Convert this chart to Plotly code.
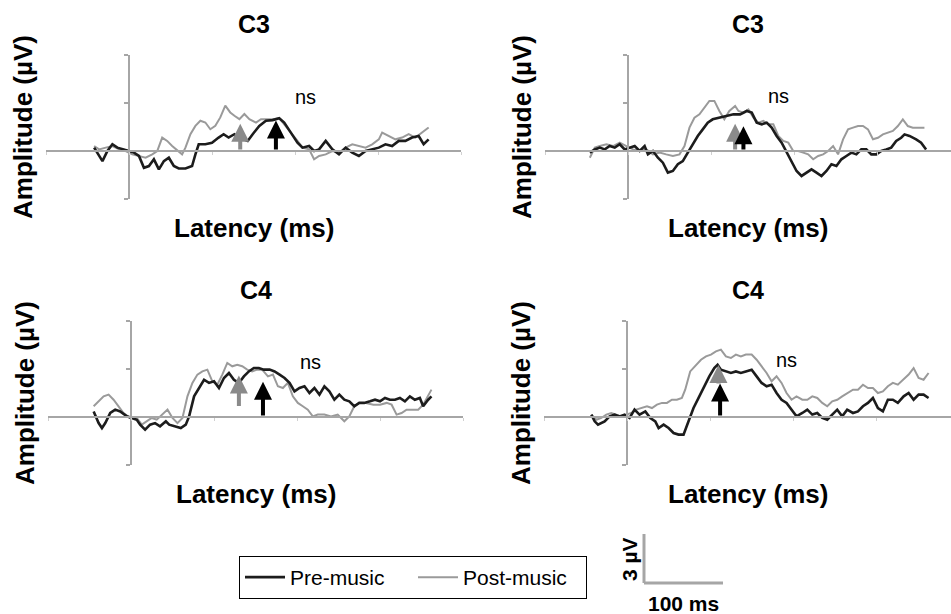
import plotly.graph_objects as go

# ---------------- data (latency in ms, amplitude in µV) ----------------
titles = ["C3", "C3", "C4", "C4"]

p1_pre_t = [-42,-36,-32,-26,-20,-14,-8,0,6,12,18,24,30,36,42,48,54,60,68,76,80,84,92,100,108,114,120,127,133,139,143,149,157,165,173,181,187,195,203,209,217,223,229,237,245,253,261,269,277,285,293,301,309,317,325,333,341,349,355,361]
p1_pre_v = [0.21,-0.31,-0.63,0,0.42,0.21,0.1,0,-0.1,-0.31,-1.05,-0.94,-0.52,-1.15,-0.63,-0.42,-0.94,-1.09,-1.09,-0.94,-0.21,0.42,0.42,0.52,0.84,1.05,0.84,1.05,0.84,0.73,0.63,1.05,1.57,1.89,1.93,2.05,1.78,1.15,0.52,0.21,0.31,0,0.1,0.63,0.1,-0.21,0.21,-0.1,-0.31,0,0.1,0.21,0.42,0.31,0.63,0.63,0.84,0.94,0.42,0.73]
p1_post_t = [-42,-36,-28,-20,-12,-4,4,12,20,28,34,40,46,52,60,64,68,74,80,86,92,98,104,110,116,122,127,133,139,145,153,159,165,173,181,187,195,203,209,217,223,229,237,245,253,261,269,277,285,293,301,305,313,321,329,337,345,353,361]
p1_post_v = [0.31,0.1,0.21,0.31,0.1,0,-0.21,-0.31,-0.42,-0.21,0,0.84,0.63,0.31,0,-0.21,0.21,1.05,1.57,1.89,1.78,1.36,1.57,2.1,2.83,2.41,2.2,1.99,2.31,1.99,1.78,1.99,1.99,1.99,2.05,1.68,1.15,0.63,0.21,0.1,-0.52,-0.31,-0.21,0,-0.1,0.21,0.42,0.31,0.21,0.42,0.73,1.15,0.94,0.73,0.84,1.05,0.84,1.15,1.47]

p2_pre_t = [-46,-40,-34,-28,-22,-16,-10,-4,2,8,14,20,24,30,36,42,48,54,60,66,72,78,84,90,96,102,110,118,127,135,143,149,155,161,167,173,179,185,191,197,203,209,215,221,227,233,239,245,251,257,263,269,275,281,287,293,299,305,311,317,323,329,333,339,347,353,359]
p2_pre_v = [-0.1,0.1,0.21,0.1,0.31,0.21,0.42,0.1,0.21,0.31,0,0.31,-0.21,0,-0.42,-0.73,-1.35,-1.25,-0.83,-0.63,-0.1,0.42,0.94,1.35,1.77,1.98,2.08,2.19,2.29,2.29,2.5,2.4,1.77,1.67,1.77,1.46,0.94,0.52,-0.1,-0.73,-1.25,-1.56,-1.35,-1.15,-1.35,-1.56,-1.25,-0.83,-0.94,-0.52,-0.31,-0.1,-0.21,0.1,0.1,-0.21,-0.21,0,0.1,0.21,0.63,0.83,1.04,0.94,0.73,0.52,0.1]
p2_post_t = [-46,-40,-34,-26,-18,-10,-2,6,14,22,30,38,46,54,62,68,74,80,86,92,98,104,110,116,122,129,133,139,145,151,157,163,169,175,181,187,193,199,205,211,217,223,229,235,241,247,253,259,265,271,277,283,289,295,301,307,313,319,325,331,337,343,351,357]
p2_post_v = [-0.42,0.21,0.31,0.42,0.31,0.52,0.31,0.1,0,0.1,-0.21,-0.1,-0.21,-0.31,-0.21,0.31,1.46,2.08,2.29,2.71,3.13,3.13,2.5,1.98,2.5,2.81,2.5,2.4,2.6,2.08,1.77,1.88,1.67,1.67,0.94,0.63,0.52,0,0,-0.1,-0.21,-0.52,-0.31,-0.21,0,0.31,-0.21,0.73,1.35,1.46,1.56,1.56,1.35,0.73,0.83,1.04,1.15,1.25,1.56,1.98,1.56,1.46,1.46,1.46]

p3_pre_t = [-45,-39,-35,-31,-25,-19,-13,-5,1,7,11,17,23,29,35,42,46,52,60,66,70,76,82,88,94,100,106,112,118,124,130,136,142,148,154,160,167,173,179,185,191,197,203,209,215,221,227,233,239,245,251,257,263,269,275,281,288,294,300,306,312,318,324,330,336,342,348,352,358,362]
p3_pre_v = [0.35,-0.38,-0.69,-0.38,0.25,0.46,0.35,0.04,-0.06,-0.17,-0.48,-0.79,-0.48,-0.38,-0.58,-0.27,-0.48,-0.58,-0.69,-0.48,0.04,1.29,1.81,2.33,2.13,2.23,1.81,2.44,2.75,2.33,2.13,2.54,2.85,3.06,3.06,2.96,2.96,2.85,2.65,2.44,2.13,1.6,1.81,1.92,1.5,1.81,1.4,1.92,1.6,1.08,1.4,1.08,0.98,0.67,0.88,0.88,0.98,1.08,0.98,1.19,1.08,1.08,1.19,0.98,1.29,1.08,1.19,0.67,1.08,1.29]
p3_post_t = [-45,-39,-33,-27,-21,-15,-9,-1,7,13,19,25,31,38,44,50,56,62,68,74,80,86,92,98,104,110,116,122,128,134,140,146,152,158,165,171,177,183,189,195,201,207,213,219,225,233,241,249,257,263,269,275,283,292,300,308,314,320,326,332,338,346,352,358,362]
p3_post_v = [0.67,0.98,1.29,1.4,1.08,0.67,0.25,-0.06,-0.06,-0.48,-0.27,-0.06,-0.17,0.15,0.46,-0.06,-0.38,-0.06,1.29,2.13,2.65,2.85,2.96,2.23,2.02,2.65,3.38,3.17,3.27,3.17,2.96,2.85,2.96,2.96,2.54,2.65,1.92,1.81,2.13,1.29,0.88,0.67,0.46,0.04,0.15,0.15,0.04,0.15,-0.27,0.04,0.67,0.88,0.88,0.77,0.77,0.88,0.77,0.15,0.25,0.46,0.46,0.46,0.77,1.29,1.71]

p4_pre_t = [-43,-39,-35,-31,-27,-21,-15,-9,-3,3,9,15,22,28,34,38,44,50,56,62,68,74,80,87,93,99,105,109,113,119,125,131,137,143,150,156,162,168,174,180,186,192,198,204,211,217,223,229,235,241,247,253,259,265,272,278,284,290,296,302,308,314,320,326,333,339,345,351,357,363]
p4_pre_v = [0.15,-0.27,-0.48,-0.38,-0.27,0.04,0.15,0.04,0.15,-0.06,0.46,0.15,0.35,-0.06,-0.27,-0.69,-0.48,-0.69,-1.0,-1.1,-1.1,-0.27,0.56,1.29,1.92,2.54,3.06,3.27,2.96,2.85,2.75,2.85,2.75,2.85,2.96,2.54,2.13,1.92,2.02,1.5,1.08,0.88,0.46,0.04,0.25,0.46,0.15,0.25,-0.06,-0.17,0.15,0.46,0.04,0.46,0.25,0.35,0.67,0.88,1.19,0.56,0.35,1.08,1.08,0.88,1.29,1.5,1.08,1.4,1.4,1.19]
p4_post_t = [-43,-37,-31,-25,-19,-13,-7,-1,5,11,17,24,30,36,42,48,54,60,66,70,76,83,89,95,101,107,113,119,125,131,137,143,150,156,162,168,174,180,186,192,198,204,211,217,223,229,235,241,247,253,259,265,272,278,284,290,296,302,308,314,320,326,333,339,345,351,357,363]
p4_post_v = [0.15,-0.17,-0.06,0.15,0.25,0.15,0.04,0.15,0.25,0.46,0.56,0.67,0.56,0.77,0.88,0.88,1.08,1.08,1.19,1.71,2.85,3.27,3.58,3.79,3.9,4.1,4.21,3.79,3.69,3.9,3.79,3.9,3.9,3.58,3.17,2.75,2.23,2.54,2.13,1.5,1.08,1.29,1.08,1.08,1.29,1.19,0.88,0.67,0.98,1.08,1.29,1.5,1.71,1.71,2.02,1.81,1.81,1.5,1.6,1.92,2.13,2.02,2.33,2.65,3.06,2.44,2.33,2.75]

pre_t = [p1_pre_t, p2_pre_t, p3_pre_t, p4_pre_t]
pre_v = [p1_pre_v, p2_pre_v, p3_pre_v, p4_pre_v]
post_t = [p1_post_t, p2_post_t, p3_post_t, p4_post_t]
post_v = [p1_post_v, p2_post_v, p3_post_v, p4_post_v]

# peak markers: latency, base amplitude, tip amplitude
post_arrow_lat = [134, 129, 130, 110]
post_arrow_base = [0, 0, 0.6, 2.0]
post_arrow_tip = [1.7, 1.7, 2.6, 3.25]
pre_arrow_lat = [177, 139, 159, 112]
pre_arrow_base = [0, 0, 0, 0]
pre_arrow_tip = [1.9, 1.55, 2.2, 2.1]
ns_lat = [213, 181, 216, 192]
ns_amp = [3.35, 3.45, 3.45, 3.55]

# ---------------- layout geometry ----------------
W, H = 951, 614
FONT = "Liberation Sans, Arial, sans-serif"
PRE_COLOR = "#1c1c1c"
POST_COLOR = "#9a9a9a"
AXIS_COLOR = "#a6a6a6"

# (left px, right px, top px, bottom px, x range)
panels = [
    (46, 461, 55, 199, [-100, 400]),
    (545, 951, 55, 199, [-100, 389]),
    (48, 463, 321, 465, [-100, 400]),
    (544, 951, 321, 465, [-100, 390]),
]
YR = [-3, 6]

fig = go.Figure()
annotations = []
for i, (l, r, t, b, xr) in enumerate(panels):
    n = i + 1
    xa = "x" if n == 1 else f"x{n}"
    ya = "y" if n == 1 else f"y{n}"
    xdom = [l / W, r / W]
    ydom = [1 - b / H, 1 - t / H]
    x0_paper = xdom[0] + (0 - xr[0]) / (xr[1] - xr[0]) * (xdom[1] - xdom[0])
    y0_paper = ydom[0] + (0 - YR[0]) / (YR[1] - YR[0]) * (ydom[1] - ydom[0])
    fig.add_trace(go.Scatter(x=post_t[i], y=post_v[i], mode="lines",
                             line=dict(color=POST_COLOR, width=2),
                             name="Post-music", showlegend=(i == 0),
                             xaxis=xa, yaxis=ya, legendrank=2))
    fig.add_trace(go.Scatter(x=pre_t[i], y=pre_v[i], mode="lines",
                             line=dict(color=PRE_COLOR, width=2.6),
                             name="Pre-music", showlegend=(i == 0),
                             xaxis=xa, yaxis=ya, legendrank=1))
    xkey = "xaxis" if n == 1 else f"xaxis{n}"
    ykey = "yaxis" if n == 1 else f"yaxis{n}"
    fig.update_layout(**{
        xkey: dict(domain=xdom, range=xr, anchor="free", position=y0_paper,
                   showline=True, linecolor=AXIS_COLOR, linewidth=2,
                   showgrid=False, zeroline=False, showticklabels=False,
                   ticks="outside", ticklen=3, tickcolor="#d0d0d0", tickwidth=1,
                   tick0=0, dtick=100, fixedrange=True),
        ykey: dict(domain=ydom, range=YR, anchor="free", position=x0_paper,
                   showline=True, linecolor=AXIS_COLOR, linewidth=2,
                   showgrid=False, zeroline=False, showticklabels=False,
                   ticks="outside", ticklen=4, tickcolor=AXIS_COLOR, tickwidth=1.5,
                   tick0=0, dtick=3, fixedrange=True),
    })
    cx = (l + min(r, l + 415)) / 2 / W
    common = dict(xref="paper", yref="paper", showarrow=False,
                  xanchor="center", yanchor="middle")
    # panel title
    annotations.append(dict(text=f"<b>{titles[i]}</b>", x=cx, y=1 - (t - 31) / H,
                            font=dict(family=FONT, size=25, color="black"), **common))
    # x-axis title
    annotations.append(dict(text="<b>Latency (ms)</b>", x=cx, y=1 - (b + 29) / H,
                            font=dict(family=FONT, size=26, color="black"), **common))
    # y-axis title
    annotations.append(dict(text="<b>Amplitude (µV)</b>", x=(l - 23) / W,
                            y=1 - (t + b) / 2 / H, textangle=-90,
                            font=dict(family=FONT, size=26, color="black"), **common))
    # ns
    annotations.append(dict(text="ns", x=ns_lat[i], y=ns_amp[i], xref=xa, yref=ya,
                            showarrow=False, xanchor="center", yanchor="middle",
                            font=dict(family=FONT, size=20, color="black")))
    # arrows
    annotations.append(dict(x=post_arrow_lat[i], y=post_arrow_tip[i],
                            ax=post_arrow_lat[i], ay=post_arrow_base[i],
                            xref=xa, yref=ya, axref=xa, ayref=ya, text="",
                            showarrow=True, arrowhead=2, arrowsize=0.9, arrowwidth=4,
                            arrowcolor="#8a8a8a"))
    annotations.append(dict(x=pre_arrow_lat[i], y=pre_arrow_tip[i],
                            ax=pre_arrow_lat[i], ay=pre_arrow_base[i],
                            xref=xa, yref=ya, axref=xa, ayref=ya, text="",
                            showarrow=True, arrowhead=2, arrowsize=0.9, arrowwidth=4,
                            arrowcolor="#000000"))

# scale bar (3 µV / 100 ms)
shapes = [
    dict(type="line", xref="paper", yref="paper", x0=644 / W, x1=644 / W,
         y0=1 - 534 / H, y1=1 - 583 / H, line=dict(color=AXIS_COLOR, width=3)),
    dict(type="line", xref="paper", yref="paper", x0=644 / W, x1=723 / W,
         y0=1 - 583 / H, y1=1 - 583 / H, line=dict(color=AXIS_COLOR, width=3)),
]
annotations.append(dict(text="<b>3 µV</b>", x=629 / W, y=1 - 559 / H, xref="paper",
                        yref="paper", showarrow=False, textangle=-90,
                        xanchor="center", yanchor="middle",
                        font=dict(family=FONT, size=21, color="black")))
annotations.append(dict(text="<b>100 ms</b>", x=683 / W, y=1 - 603 / H, xref="paper",
                        yref="paper", showarrow=False,
                        xanchor="center", yanchor="middle",
                        font=dict(family=FONT, size=21, color="black")))

fig.update_layout(
    width=W, height=H,
    margin=dict(l=0, r=0, t=0, b=0),
    paper_bgcolor="white", plot_bgcolor="white",
    annotations=annotations, shapes=shapes,
    showlegend=True,
    legend=dict(x=239 / W, y=1 - 556 / H, xanchor="left", yanchor="top",
                orientation="h", bordercolor="black", borderwidth=1,
                bgcolor="white", font=dict(family=FONT, size=21, color="black"),
                itemwidth=40, entrywidth=118, entrywidthmode="pixels",
                traceorder="normal"),
)

fig.write_html("out.html", config={"displayModeBar": False},
               post_script="document.body.style.margin='0';document.body.style.overflow='hidden';")
